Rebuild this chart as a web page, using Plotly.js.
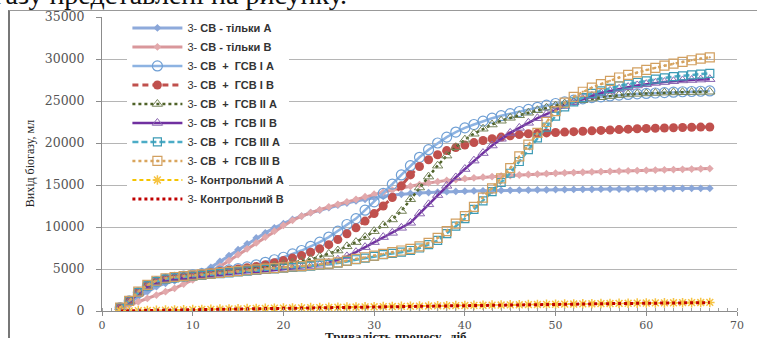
<!DOCTYPE html>
<html>
<head>
<meta charset="utf-8">
<script src="https://cdn.plot.ly/plotly-3.0.1.min.js"></script>
<style>
html,body{margin:0;padding:0;background:#fff;width:757px;height:338px;overflow:hidden;position:relative;}
#chart{position:absolute;left:0;top:0;width:757px;height:338px;}
#frame{position:absolute;left:8px;top:10px;width:800px;height:400px;border-left:2px solid #777;border-top:1px solid #999;pointer-events:none;}
#toptext{position:absolute;left:-6px;top:-21px;font-family:'Liberation Serif','Times New Roman',serif;font-size:28px;color:#111;white-space:nowrap;}
</style>
</head>
<body>
<div id="toptext">газу представлені на рисунку.</div>
<div id="chart"></div>
<div id="frame"></div>
<script>
const days = [2,3,4,5,6,7,8,9,10,11,
  12,13,14,15,16,17,18,19,20,21,
  22,23,24,25,26,27,28,29,30,31,
  32,33,34,35,36,37,38,39,40,41,
  42,43,44,45,46,47,48,49,50,51,
  52,53,54,55,56,57,58,59,60,61,
  62,63,64,65,66,67];

const seriesNames = [
  '3- <b>СВ - тільки А</b>',
  '3- <b>СВ - тільки В</b>',
  '3- <b>СВ  +  ГСВ І А</b>',
  '3- <b>СВ  +  ГСВ І В</b>',
  '3- <b>СВ  +  ГСВ ІІ А</b>',
  '3- <b>СВ  +  ГСВ ІІ В</b>',
  '3- <b>СВ  +  ГСВ ІІІ А</b>',
  '3- <b>СВ  +  ГСВ ІІІ В</b>',
  '3- <b>Контрольний А</b>',
  '3- <b>Контрольний В</b>'
];

const svOnlyA = [400,1000,1700,2300,2900,3300,3600,3900,4300,4700,
  5200,5900,6600,7300,8000,8700,9300,9900,10400,10900,
  11300,11700,12000,12300,12600,12850,13100,13300,13500,13650,
  13800,13900,14000,14050,14100,14150,14200,14230,14260,14290,
  14310,14330,14350,14370,14390,14400,14420,14430,14450,14460,
  14470,14480,14490,14500,14510,14520,14530,14540,14550,14560,
  14570,14580,14590,14600,14600,14610];

const svOnlyB = [300,700,1100,1500,1900,2300,2700,3200,3700,4200,
  4700,5300,6000,6700,7400,8100,8800,9500,10200,10800,
  11300,11700,12050,12400,12700,13000,13300,13600,13900,14150,
  14400,14650,14850,15050,15250,15400,15550,15650,15750,15850,
  15930,16000,16070,16130,16190,16250,16300,16350,16400,16440,
  16480,16520,16560,16600,16630,16660,16690,16720,16750,16780,
  16810,16840,16870,16900,16920,16950];

const gsv1A = [400,1200,2200,3000,3500,3800,4000,4150,4300,4450,
  4600,4750,4900,5050,5250,5500,5800,6100,6400,6800,
  7200,7700,8200,8800,9500,10300,11000,12000,13000,14000,
  15100,16200,17300,18300,19200,20000,20700,21300,21800,22200,
  22600,22950,23250,23500,23750,24000,24250,24500,24700,24900,
  25100,25250,25400,25500,25600,25700,25780,25850,25900,25950,
  26000,26050,26100,26130,26160,26200];

const gsv1B = [400,1200,2200,3000,3500,3800,3950,4100,4250,4400,
  4550,4700,4850,5000,5150,5300,5500,5750,6000,6300,
  6600,7000,7400,7900,8500,9200,9900,10700,11600,12500,
  13500,14900,16200,17200,18000,18600,19100,19450,19750,20050,
  20300,20500,20700,20850,21000,21100,21150,21200,21250,21300,
  21350,21400,21450,21500,21550,21600,21650,21700,21730,21760,
  21790,21820,21850,21870,21890,21900];

const gsv2A = [400,1200,2200,3000,3500,3800,3950,4100,4200,4350,
  4500,4600,4750,4850,5000,5100,5250,5400,5550,5750,
  5950,6150,6450,6800,7200,7700,8200,8800,9500,10200,
  10900,11900,13300,14700,16000,17300,18500,19500,20400,21100,
  21700,22200,22650,23000,23300,23600,23900,24200,24450,24700,
  24900,25100,25300,25450,25580,25700,25780,25850,25900,25950,
  26000,26020,26040,26060,26080,26100];

const gsv2B = [400,1100,2100,2900,3400,3700,3850,3950,4050,4150,
  4250,4350,4450,4550,4600,4650,4750,4850,4950,5050,
  5150,5300,5500,5750,6100,6500,7000,7600,8200,8800,
  9300,9900,10500,11600,12700,13800,14900,15900,16900,17900,
  18800,19700,20500,21200,21800,22400,22950,23450,23950,24400,
  24850,25250,25600,25950,26200,26450,26650,26850,27000,27150,
  27250,27350,27450,27500,27550,27600];

const gsv3A = [400,1200,2200,3000,3500,3800,3950,4050,4150,4250,
  4350,4450,4550,4650,4750,4850,4950,5000,5100,5200,
  5250,5350,5450,5550,5700,5900,6100,6300,6500,6700,
  6850,7000,7200,7500,7900,8400,9200,10100,11000,12100,
  13100,14200,15300,16400,17800,19200,20600,21900,23200,24300,
  24900,25400,25900,26200,26500,26800,27000,27200,27400,27600,
  27750,27900,28000,28100,28200,28300];

const gsv3B = [400,1200,2300,3100,3600,3900,4050,4150,4250,4350,
  4450,4550,4650,4750,4850,4950,5050,5100,5200,5300,
  5350,5450,5550,5650,5800,6000,6200,6400,6600,6800,
  7000,7200,7400,7700,8100,8700,9500,10400,11300,12400,
  13500,14600,15800,17000,18400,19800,21200,22500,23800,24800,
  25500,26100,26600,27000,27400,27800,28100,28400,28700,28950,
  29200,29450,29650,29850,30050,30200];

const controlA = [0,20,40,60,80,100,120,140,160,180,
  200,220,240,260,280,300,310,330,350,360,
  380,400,410,430,440,460,470,490,500,520,
  530,550,560,580,590,610,620,640,650,670,
  680,700,710,730,740,760,770,790,800,815,
  830,845,860,875,890,905,920,935,950,960,
  970,980,990,1000,1010,1020];

const controlB = [0,10,30,50,70,90,110,130,150,170,
  190,210,230,250,260,280,300,310,330,340,
  360,380,390,410,420,440,450,470,480,500,
  510,530,540,560,570,590,600,620,630,650,
  660,680,690,710,720,740,750,770,780,800,
  810,830,840,860,870,890,900,920,930,940,
  950,960,970,980,990,1000];

const yTitle = 'Вихід біогазу, мл';
const xTitle = 'Тривалість процесу,  діб';

const traces = [
  {y: svOnlyA, name: seriesNames[0], mode:'lines+markers',
   line:{color:'#8eaadb', width:3},
   marker:{symbol:'diamond', size:6, color:'#8aa6d8'}},
  {y: svOnlyB, name: seriesNames[1], mode:'lines+markers',
   line:{color:'#d9979b', width:3},
   marker:{symbol:'diamond', size:6, color:'#e2a9ac'}},
  {y: gsv1A, name: seriesNames[2], mode:'lines+markers',
   line:{color:'#8db3e2', width:2.5},
   marker:{symbol:'circle-open', size:10, color:'#6f9fd4', line:{width:1.2}}},
  {y: gsv1B, name: seriesNames[3], mode:'lines+markers',
   line:{color:'#c0504d', width:3, dash:'6px,4px'},
   marker:{symbol:'circle', size:9, color:'#c0504d'}},
  {y: gsv2A, name: seriesNames[4], mode:'lines+markers',
   line:{color:'#4f6228', width:2.5, dash:'dot'},
   marker:{symbol:'triangle-up-open', size:9, color:'#76845a', line:{width:1}}},
  {y: gsv2B, name: seriesNames[5], mode:'lines+markers',
   line:{color:'#7030a0', width:2.5},
   marker:{symbol:'triangle-up-open', size:9, color:'#8a66b0', line:{width:1}}},
  {y: gsv3A, name: seriesNames[6], mode:'lines+markers',
   line:{color:'#4bacc6', width:2.5, dash:'6px,3px'},
   marker:{symbol:'square-open', size:8, color:'#3d9bb5', line:{width:1.2}}},
  {y: gsv3B, name: seriesNames[7], mode:'lines+markers',
   line:{color:'#d9a55c', width:2.5, dash:'dot'},
   marker:{symbol:'square-open-dot', size:9, color:'#d2a060', line:{width:1.2}}},
  {y: controlA, name: seriesNames[8], mode:'lines+markers',
   line:{color:'#f5c400', width:2, dash:'4px,3px'},
   marker:{symbol:'asterisk-open', size:8, color:'#f6c342', line:{width:1.5}}},
  {y: controlB, name: seriesNames[9], mode:'lines',
   line:{color:'#c00000', width:3, dash:'dot'}}
].map(t => Object.assign({x: days, type:'scatter'}, t));

const serif = 'DejaVu Serif, serif';

const layout = {
  width:757, height:338,
  margin:{l:102, r:20, t:17, b:27, pad:0},
  paper_bgcolor:'rgba(0,0,0,0)', plot_bgcolor:'rgba(0,0,0,0)',
  showlegend:true,
  xaxis:{range:[0,70], tick0:0, dtick:10, showgrid:false, zeroline:false,
    showline:true, linecolor:'#8c8c8c', linewidth:1,
    ticks:'outside', ticklen:4, tickcolor:'#8c8c8c',
    tickfont:{family:serif, size:11, color:'#555'},
    minor:{dtick:1, ticks:'inside', ticklen:3, tickcolor:'#a0a0a0', showgrid:false}},
  yaxis:{range:[0,35000], tick0:0, dtick:5000, tickformat:'d', showgrid:true, gridcolor:'#b5b5b5', gridwidth:1,
    zeroline:false, showline:true, linecolor:'#8c8c8c', linewidth:1,
    ticks:'outside', ticklen:5, tickcolor:'#8c8c8c',
    tickfont:{family:serif, size:12.5, color:'#555'}, ticklabelstandoff:9},
  legend:{x:0.04, y:1.012, xanchor:'left', yanchor:'top', bgcolor:'#ffffff', borderwidth:0,
    font:{family:'Liberation Sans, Arial, sans-serif', size:11, color:'#333'},
    tracegroupgap:0, itemwidth:50, maxheight:320},
  annotations:[
    {text:yTitle, xref:'paper', yref:'paper', x:-0.113, y:0.5, xanchor:'center', yanchor:'middle',
     textangle:-90, showarrow:false, font:{family:'Liberation Serif, serif', size:12, color:'#222'}},
    {text:'<b>'+xTitle+'</b>', xref:'paper', yref:'paper', x:0.463, y:-0.056, xanchor:'center', yanchor:'top',
     showarrow:false, font:{family:'Liberation Serif, serif', size:13, color:'#222'}}
  ]
};

Plotly.newPlot('chart', traces, layout, {displayModeBar:false, staticPlot:true});
</script>
</body>
</html>
